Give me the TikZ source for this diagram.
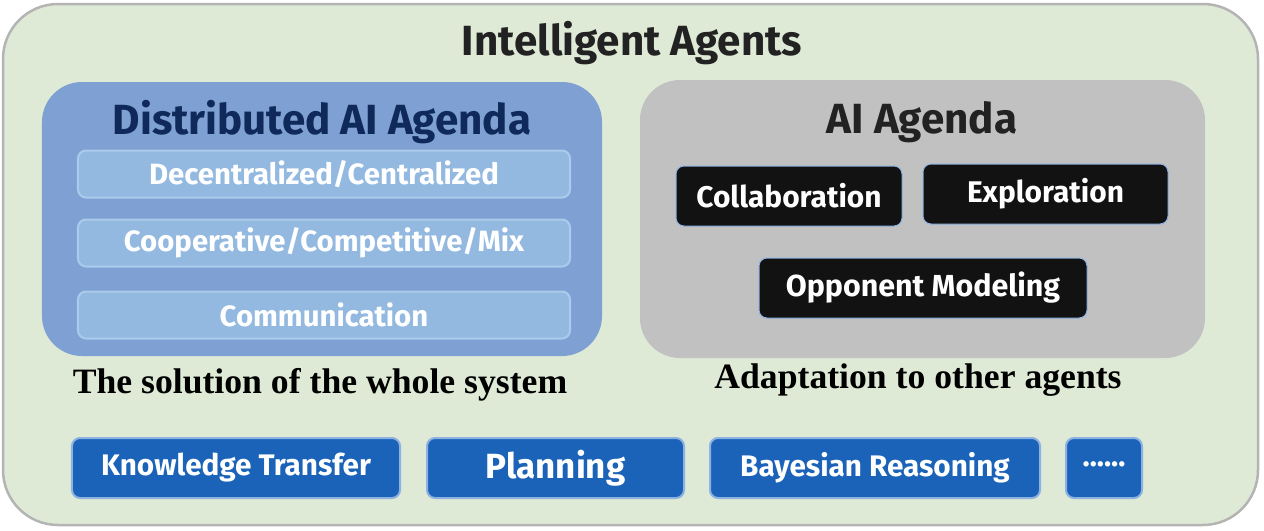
\documentclass[tikz,border=0pt]{standalone}
\usepackage{fontspec}
\setmainfont{Liberation Serif}
\newfontfamily\boxfont{Fira Sans}
\usetikzlibrary{positioning}

\definecolor{outerfill}{HTML}{DEEAD6}
\definecolor{outerline}{HTML}{B4B4B4}
\definecolor{dai}{HTML}{7FA0D2}
\definecolor{daititle}{HTML}{0F2A5A}
\definecolor{daiitem}{HTML}{93B9E1}
\definecolor{daiedge}{HTML}{AACBEB}
\definecolor{aigray}{HTML}{C1C1C1}
\definecolor{aititle}{HTML}{222222}
\definecolor{blackbox}{HTML}{121212}
\definecolor{tool}{HTML}{1B63B8}
\definecolor{tooledge}{HTML}{8DB2E2}

\begin{document}
\begin{tikzpicture}[
    x=0.2mm, y=-0.2mm,
    panel/.style={rectangle, rounded corners=8mm, draw=none},
    item/.style={rectangle, rounded corners=1.6mm, fill=daiitem, draw=daiedge, line width=0.4mm,
        minimum width=98.4mm, minimum height=9.4mm, text=white, font=\boxfont\bfseries\fontsize{16.7}{18}\selectfont},
    skill/.style={rectangle, rounded corners=1.6mm, fill=blackbox, draw=tooledge, line width=0.2mm,
        minimum height=12mm, text=white, font=\boxfont\bfseries\fontsize{17}{18}\selectfont},
    tech/.style={rectangle, rounded corners=1.6mm, fill=tool, draw=tooledge, line width=0.4mm,
        minimum height=12mm, text=white, font=\boxfont\bfseries\fontsize{16.9}{18}\selectfont},
    caption/.style={font=\bfseries\fontsize{20.3}{22}\selectfont},
    heading/.style={font=\boxfont\bfseries\fontsize{24}{26}\selectfont}
]
    \useasboundingbox (0,0) rectangle (1264,530);

    % Outer frame
    \draw[fill=outerfill, draw=outerline, line width=0.5mm, rounded corners=11mm] (3,4) rectangle (1258,525);
    \node[heading, text=aititle] (agents) at (632,43) {Intelligent Agents};

    % Distributed AI agenda
    \node[panel, fill=dai, minimum width=112mm, minimum height=54.8mm] (dai) at (322,219) {};
    \node[heading, text=daititle] (daititle) at (322,122) {Distributed AI Agenda};
    \node[item] (decent) at (324,174) {Decentralized/Centralized};
    \node[item] (coop) at (324,243) {Cooperative/Competitive/Mix};
    \node[item] (comm) at (324,315) {Communication};
    \node[caption] (whole) at (320,385) {The solution of the whole system};

    % AI agenda
    \node[panel, fill=aigray, minimum width=113mm, minimum height=55.6mm] (ai) at (922.5,219) {};
    \node[heading, text=aititle] (aititle) at (922,122) {AI Agenda};
    \node[skill, minimum width=45.2mm] (collab) at (789,196) {Collaboration};
    \node[skill, minimum width=49mm] (explore) at (1045.5,194) {Exploration};
    \node[skill, minimum width=65.6mm, font=\boxfont\bfseries\fontsize{17.3}{18}\selectfont] (opponent) at (923,288) {Opponent Modeling};
    \node[caption] (adapt) at (918,380) {Adaptation to other agents};

    % Techniques
    \node[tech, minimum width=65.6mm] (transfer) at (236,468) {Knowledge Transfer};
    \node[tech, minimum width=51.4mm, font=\boxfont\bfseries\fontsize{19.9}{22}\selectfont] (plan) at (555.5,468) {Planning};
    \node[tech, minimum width=66mm] (bayes) at (875,468) {Bayesian Reasoning};
    \node[tech, minimum width=15.2mm] (more) at (1104,468) {\raisebox{0.5ex}{......}};
\end{tikzpicture}
\end{document}
